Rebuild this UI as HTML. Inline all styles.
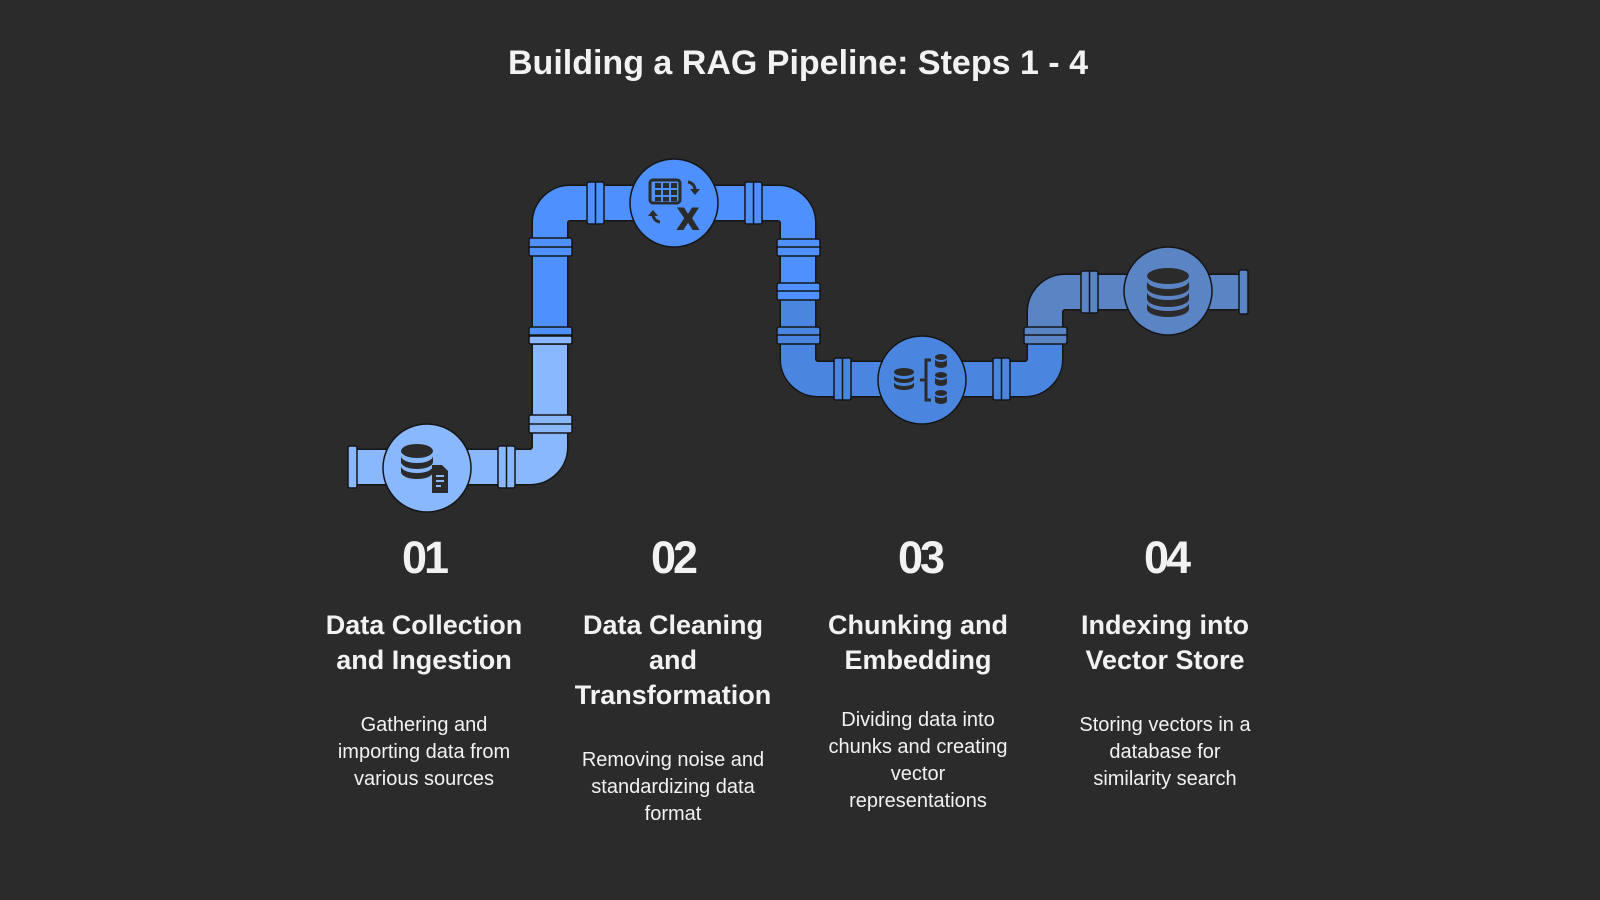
<!DOCTYPE html>
<html><head><meta charset="utf-8"><style>
html,body{margin:0;padding:0;background:#2b2b2b;}
svg{display:block}
text{font-family:"Liberation Sans",sans-serif;fill:#f2f2f2;text-anchor:middle}
.h{font-weight:bold;font-size:27px}
.d{font-size:20px}
.n{font-size:45px;font-weight:bold;letter-spacing:-3px}
</style></head><body>
<svg width="1600" height="900" viewBox="0 0 1600 900" xmlns="http://www.w3.org/2000/svg">
<rect width="1600" height="900" fill="#2b2b2b"/>
<text x="798" y="74" style="font-weight:bold;font-size:34px">Building a RAG Pipeline: Steps 1 - 4</text>

<g fill="none" stroke-linecap="butt">
<path d="M352 467 H530 A20 20 0 0 0 550 447 V223 A20 20 0 0 1 570 203 H778 A20 20 0 0 1 798 223 V359 A20 20 0 0 0 818 379 H1025 A20 20 0 0 0 1045 359 V312 A20 20 0 0 1 1065 292 H1243" stroke="#151515" stroke-width="37"/>
<path d="M352 467 H530 A20 20 0 0 0 550 447 V340" stroke="#8ab8ff" stroke-width="34"/>
<path d="M550 343 V223 A20 20 0 0 1 570 203 H778 A20 20 0 0 1 798 223 V300" stroke="#4d90fe" stroke-width="34"/>
<path d="M798 297 V359 A20 20 0 0 0 818 379 H1025 A20 20 0 0 0 1045 359 V332" stroke="#4a86e0" stroke-width="34"/>
<path d="M1045 335 V312 A20 20 0 0 1 1065 292 H1243" stroke="#5b84c4" stroke-width="34"/>
</g>

<g stroke="#151515" stroke-width="1.5">
<rect x="529" y="238" width="43" height="18" rx="2" fill="#4d90fe"/>
<rect x="529" y="327" width="43" height="17" rx="2" fill="#4d90fe"/>
<rect x="529" y="336" width="43" height="8" rx="2" fill="#8ab8ff"/>
<rect x="529" y="415" width="43" height="18" rx="2" fill="#8ab8ff"/>
<rect x="777" y="239" width="43" height="17" rx="2" fill="#4d90fe"/>
<rect x="777" y="283" width="43" height="17" rx="2" fill="#4d90fe"/>
<rect x="777" y="327" width="43" height="17" rx="2" fill="#4a86e0"/>
<rect x="1024" y="327" width="43" height="17" rx="2" fill="#5b84c4"/>
<line x1="529" y1="247" x2="572" y2="247"/><line x1="529" y1="335" x2="572" y2="335"/><line x1="529" y1="424" x2="572" y2="424"/>
<line x1="777" y1="247" x2="820" y2="247"/><line x1="777" y1="291" x2="820" y2="291"/><line x1="777" y1="335" x2="820" y2="335"/>
<line x1="1024" y1="335" x2="1067" y2="335"/>
<rect x="587" y="182" width="17" height="42" rx="2" fill="#4d90fe"/>
<rect x="745" y="182" width="17" height="42" rx="2" fill="#4d90fe"/>
<rect x="498" y="446" width="17" height="42" rx="2" fill="#8ab8ff"/>
<rect x="834" y="358" width="17" height="42" rx="2" fill="#4a86e0"/>
<rect x="993" y="358" width="17" height="42" rx="2" fill="#4a86e0"/>
<rect x="1081" y="271" width="17" height="42" rx="2" fill="#5b84c4"/>
<line x1="595.5" y1="182" x2="595.5" y2="224"/><line x1="753.5" y1="182" x2="753.5" y2="224"/>
<line x1="506.5" y1="446" x2="506.5" y2="488"/><line x1="842.5" y1="358" x2="842.5" y2="400"/>
<line x1="1001.5" y1="358" x2="1001.5" y2="400"/><line x1="1089.5" y1="271" x2="1089.5" y2="313"/>
<rect x="348" y="446" width="9" height="42" rx="2" fill="#8ab8ff"/>
<rect x="1239" y="270" width="9" height="44" rx="2" fill="#5b84c4"/>
<circle cx="427" cy="468" r="44" fill="#8ab8ff"/>
<circle cx="674" cy="203" r="44" fill="#4d90fe"/>
<circle cx="922" cy="380" r="44" fill="#4a86e0"/>
<circle cx="1168" cy="291" r="44" fill="#5b84c4"/>
</g>

<g fill="#2b2b2b">
<ellipse cx="417" cy="451" rx="16" ry="7"/>
<path d="M401 456 v6 a16 7 0 0 0 32 0 v-6 a16 7 0 0 1 -32 0z"/>
<path d="M401 466 v6 a16 7 0 0 0 32 0 v-6 a16 7 0 0 1 -32 0z"/>
<path d="M432 465 h10 l6 6 v22 h-16z"/>
</g>
<g fill="#8ab8ff"><rect x="436" y="475" width="8" height="2"/><rect x="436" y="480" width="8" height="2"/><rect x="436" y="485" width="5" height="2"/></g>

<g fill="none" stroke="#2b2b2b" stroke-width="3">
<rect x="650" y="180" width="30" height="23" rx="3"/>
<path d="M688 182 a8 8 0 0 1 7 8"/>
<path d="M660 222 a8 8 0 0 1 -7 -8"/>
</g>
<g fill="#2b2b2b">
<path d="M690 189 h10 l-5 6z"/><path d="M648 216 l5 -6 5 6z"/>
<rect x="655" y="183" width="6" height="5"/><rect x="663" y="183" width="6" height="5"/><rect x="671" y="183" width="6" height="5"/>
<rect x="655" y="190" width="6" height="5"/><rect x="663" y="190" width="6" height="5"/><rect x="671" y="190" width="6" height="5"/>
<rect x="655" y="197" width="6" height="4"/><rect x="663" y="197" width="6" height="4"/><rect x="671" y="197" width="6" height="4"/>
</g>
<g fill="#4d90fe"><rect x="653" y="188" width="25" height="2"/><rect x="653" y="195" width="25" height="2"/><rect x="661" y="182" width="2" height="20"/><rect x="669" y="182" width="2" height="20"/></g>
<text x="688" y="229" style="fill:#2b2b2b;font-weight:bold;font-size:30px;stroke:#2b2b2b;stroke-width:2">X</text>

<g fill="#2b2b2b">
<ellipse cx="904" cy="372" rx="10" ry="4"/>
<path d="M894 375 v4 a10 4 0 0 0 20 0 v-4 a10 4 0 0 1 -20 0z"/>
<path d="M894 382 v4 a10 4 0 0 0 20 0 v-4 a10 4 0 0 1 -20 0z"/>
<ellipse cx="941" cy="357" rx="6" ry="3"/><path d="M935 359 v6 a6 3 0 0 0 12 0 v-6 a6 3 0 0 1 -12 0z"/>
<ellipse cx="941" cy="375" rx="6" ry="3"/><path d="M935 377 v6 a6 3 0 0 0 12 0 v-6 a6 3 0 0 1 -12 0z"/>
<ellipse cx="941" cy="393" rx="6" ry="3"/><path d="M935 395 v6 a6 3 0 0 0 12 0 v-6 a6 3 0 0 1 -12 0z"/>
</g>
<path d="M931 360 h-5 v40 h5 M926 380 h-6" fill="none" stroke="#2b2b2b" stroke-width="3"/>

<g fill="#2b2b2b">
<ellipse cx="1168" cy="276" rx="21" ry="8"/>
<path d="M1147 281 v7 a21 8 0 0 0 42 0 v-7 a21 8 0 0 1 -42 0z"/>
<path d="M1147 292 v7 a21 8 0 0 0 42 0 v-7 a21 8 0 0 1 -42 0z"/>
<path d="M1147 303 v6 a21 8 0 0 0 42 0 v-6 a21 8 0 0 1 -42 0z"/>
</g>

<text class="n" x="424" y="573">01</text>
<text class="n" x="673" y="573">02</text>
<text class="n" x="920" y="573">03</text>
<text class="n" x="1166" y="573">04</text>

<text class="h" x="424" y="634">Data Collection</text>
<text class="h" x="424" y="669">and Ingestion</text>
<text class="h" x="673" y="634">Data Cleaning</text>
<text class="h" x="673" y="669">and</text>
<text class="h" x="673" y="704">Transformation</text>
<text class="h" x="918" y="634">Chunking and</text>
<text class="h" x="918" y="669">Embedding</text>
<text class="h" x="1165" y="634">Indexing into</text>
<text class="h" x="1165" y="669">Vector Store</text>

<text class="d" x="424" y="731">Gathering and</text>
<text class="d" x="424" y="758">importing data from</text>
<text class="d" x="424" y="785">various sources</text>
<text class="d" x="673" y="766">Removing noise and</text>
<text class="d" x="673" y="793">standardizing data</text>
<text class="d" x="673" y="820">format</text>
<text class="d" x="918" y="726">Dividing data into</text>
<text class="d" x="918" y="753">chunks and creating</text>
<text class="d" x="918" y="780">vector</text>
<text class="d" x="918" y="807">representations</text>
<text class="d" x="1165" y="731">Storing vectors in a</text>
<text class="d" x="1165" y="758">database for</text>
<text class="d" x="1165" y="785">similarity search</text>
</svg>
</body></html>
